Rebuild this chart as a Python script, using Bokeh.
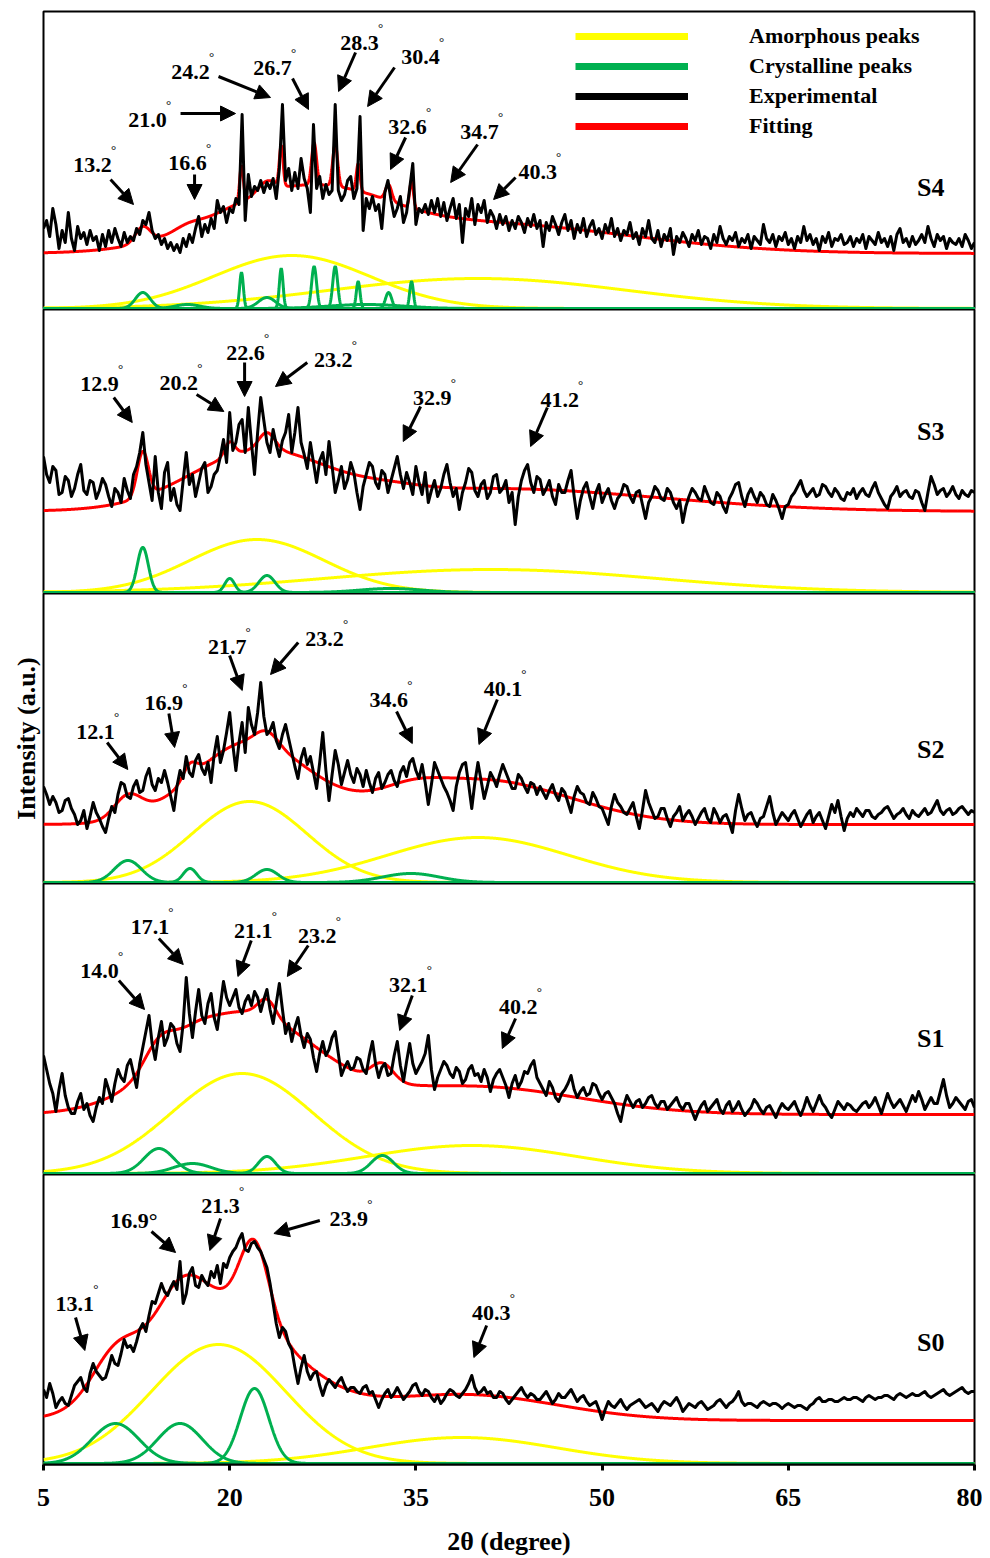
import numpy as np
from bokeh.plotting import figure
from bokeh.layouts import column
from bokeh.models import (Range1d, FixedTicker, Arrow, NormalHead, Legend,
                          LegendItem, ColumnDataSource)
from bokeh.core.properties import value
from bokeh.embed import file_html
from bokeh.resources import INLINE

FONT = "Liberation Serif"
C_AMORPH = "#FFFF00"
C_CRYST = "#00B050"
C_EXP = "#000000"
C_FIT = "#FF0000"

X_TICKS = [5, 20, 35, 50, 65, 80]
SAMPLES = ["S4", "S3", "S2", "S1", "S0"]
LEGEND_LABELS = ["Amorphous peaks", "Crystalline peaks", "Experimental", "Fitting"]
STEP = 0.25  # 2-theta sampling of the experimental traces, from 5 to 80

# ---------------- S4 ----------------
S4_EXP = [
    80, 88, 72, 100, 84, 60, 78, 66, 96, 70, 58, 82, 70, 76, 64, 78, 68, 72, 58, 74,
    62, 78, 66, 80, 70, 62, 76, 66, 72, 68, 80, 74, 88, 84, 96, 78, 70, 74, 64, 70,
    60, 66, 58, 64, 56, 70, 62, 74, 66, 80, 92, 72, 84, 76, 90, 80, 108, 96, 102, 86,
    100, 96, 110, 104, 194, 88, 134, 112, 122, 118, 128, 116, 126, 120, 130, 110, 140, 204, 128, 140,
    118, 136, 120, 150, 130, 120, 96, 184, 120, 132, 110, 124, 114, 118, 204, 118, 108, 114, 128, 132,
    110, 120, 192, 78, 110, 100, 112, 98, 104, 80, 116, 128, 108, 92, 100, 112, 86, 96, 120, 145,
    84, 100, 96, 104, 94, 108, 96, 110, 92, 106, 88, 100, 110, 90, 104, 66, 100, 92, 110, 84,
    104, 96, 108, 86, 98, 92, 80, 94, 84, 92, 78, 88, 80, 92, 86, 76, 90, 82, 94, 80,
    88, 62, 86, 78, 92, 84, 74, 86, 94, 78, 88, 70, 84, 76, 90, 72, 82, 88, 74, 80,
    70, 84, 76, 90, 72, 80, 68, 78, 74, 86, 70, 76, 64, 80, 72, 88, 70, 66, 78, 62,
    74, 68, 80, 54, 72, 66, 76, 70, 62, 74, 68, 78, 64, 72, 70, 60, 74, 66, 82, 70,
    64, 72, 68, 76, 62, 70, 66, 74, 60, 72, 68, 64, 84, 70, 66, 74, 62, 72, 68, 76,
    64, 70, 60, 72, 66, 82, 68, 74, 64, 70, 58, 72, 66, 76, 62, 70, 68, 74, 64, 66,
    72, 62, 70, 66, 74, 60, 72, 68, 64, 76, 66, 70, 62, 72, 58, 74, 80, 66, 70, 62,
    72, 64, 68, 74, 66, 82, 70, 62, 74, 68, 72, 60, 70, 66, 64, 70, 62, 74, 68, 60,
    66]
S4_BASE = 55
S4_AM_C = [25.0, 40.0]
S4_AM_H = [53, 30]
S4_AM_W = [6.3, 12.0]
S4_CR_C = [13.0, 16.6, 20.95, 23.0, 24.15, 26.8, 28.5, 30.35, 31.0, 32.8, 34.65]
S4_CR_H = [16, 4, 36, 11, 40, 42, 42, 27, 4, 16, 27]
S4_CR_W = [0.6, 1.0, 0.15, 0.7, 0.15, 0.2, 0.2, 0.15, 3.0, 0.25, 0.15]
S4_LABELS = ["13.2", "16.6", "21.0", "24.2", "26.7", "28.3", "30.4", "32.6", "34.7", "40.3"]

# ---------------- S3 ----------------
S3_EXP = [
    136, 118, 110, 126, 122, 98, 100, 116, 112, 96, 104, 118, 128, 102, 98, 112, 110, 94, 102, 114,
    108, 96, 86, 104, 100, 90, 114, 102, 94, 118, 126, 140, 160, 128, 110, 92, 136, 100, 84, 120,
    130, 92, 104, 88, 82, 112, 140, 108, 118, 96, 110, 124, 130, 100, 106, 118, 122, 136, 153, 130,
    180, 142, 150, 168, 173, 140, 185, 150, 118, 160, 195, 172, 150, 140, 163, 148, 136, 152, 160, 178,
    140, 160, 185, 150, 138, 124, 150, 130, 110, 132, 140, 118, 151, 126, 100, 112, 126, 104, 113, 130,
    120, 100, 83, 106, 118, 130, 126, 110, 104, 122, 118, 100, 112, 124, 136, 118, 104, 120, 110, 98,
    126, 110, 98, 120, 90, 102, 112, 96, 104, 118, 128, 110, 96, 104, 83, 100, 110, 124, 120, 102,
    96, 108, 112, 94, 100, 116, 118, 100, 104, 112, 90, 100, 68, 96, 112, 122, 128, 110, 100, 116,
    113, 98, 104, 112, 96, 88, 108, 100, 100, 112, 122, 96, 74, 92, 104, 110, 96, 84, 100, 108,
    90, 98, 104, 92, 84, 94, 98, 108, 106, 96, 90, 100, 102, 88, 74, 90, 96, 106, 102, 94,
    92, 104, 100, 90, 84, 92, 70, 86, 96, 104, 100, 94, 92, 106, 98, 90, 88, 100, 96, 86,
    80, 94, 100, 108, 110, 96, 86, 98, 104, 96, 90, 100, 96, 88, 86, 98, 92, 84, 74, 86,
    88, 96, 100, 106, 112, 102, 96, 100, 104, 96, 98, 108, 106, 100, 96, 104, 100, 94, 92, 100,
    98, 104, 94, 100, 104, 98, 96, 104, 110, 100, 94, 88, 84, 96, 100, 106, 96, 100, 102, 96,
    94, 102, 100, 90, 82, 100, 116, 108, 98, 102, 104, 96, 100, 106, 98, 94, 102, 98, 96, 102,
    100]
S3_BASE = 81
S3_AM_C = [22.2, 41.0]
S3_AM_H = [53, 23]
S3_AM_W = [5.4, 13.5]
S3_CR_C = [13.0, 20.0, 23.0, 33.0]
S3_CR_H = [45, 14, 17, 4]
S3_CR_W = [0.45, 0.4, 0.65, 2.5]
S3_LABELS = ["12.9", "20.2", "22.6", "23.2", "32.9", "41.2"]

# ---------------- S2 ----------------
S2_EXP = [
    96, 88, 78, 86, 80, 70, 72, 82, 84, 74, 68, 58, 62, 72, 54, 66, 80, 70, 64, 56,
    50, 64, 76, 70, 88, 100, 98, 86, 84, 96, 102, 90, 92, 106, 114, 98, 92, 104, 100, 112,
    100, 86, 72, 96, 112, 104, 126, 110, 106, 122, 128, 114, 108, 120, 100, 128, 146, 120, 132, 150,
    170, 138, 112, 140, 160, 130, 175, 158, 148, 170, 200, 166, 148, 152, 160, 142, 134, 148, 158, 144,
    130, 116, 104, 124, 134, 118, 126, 110, 94, 120, 150, 112, 82, 108, 132, 118, 98, 110, 122, 108,
    100, 114, 108, 96, 112, 100, 90, 104, 110, 94, 100, 108, 112, 102, 96, 110, 116, 106, 120, 124,
    112, 104, 118, 100, 78, 98, 120, 112, 104, 96, 90, 82, 72, 96, 110, 118, 120, 98, 74, 100,
    120, 102, 84, 96, 110, 104, 96, 108, 118, 110, 102, 94, 94, 108, 104, 96, 90, 100, 98, 88,
    96, 90, 84, 92, 98, 88, 82, 94, 90, 80, 70, 86, 96, 90, 88, 80, 78, 90, 84, 76,
    74, 66, 58, 76, 88, 80, 76, 70, 68, 74, 80, 66, 54, 72, 92, 80, 72, 64, 66, 74,
    74, 64, 56, 66, 70, 76, 62, 68, 72, 66, 58, 64, 70, 74, 64, 60, 74, 68, 60, 66,
    68, 60, 50, 72, 88, 74, 62, 68, 70, 62, 56, 64, 66, 76, 86, 70, 58, 64, 70, 66,
    62, 68, 72, 64, 56, 62, 68, 72, 60, 66, 70, 62, 54, 66, 78, 70, 82, 66, 52, 64,
    70, 66, 74, 70, 66, 72, 72, 66, 64, 68, 70, 74, 76, 70, 64, 68, 70, 74, 68, 64,
    72, 68, 66, 70, 74, 68, 70, 76, 82, 72, 68, 72, 74, 68, 70, 74, 76, 72, 68, 72,
    70]
S2_BASE = 58
S2_AM_C = [21.6, 40.0]
S2_AM_H = [81, 45]
S2_AM_W = [4.6, 7.3]
S2_CR_C = [11.8, 16.8, 23.0, 34.6]
S2_CR_H = [22, 14, 13, 9]
S2_CR_W = [1.1, 0.55, 0.9, 2.3]
S2_LABELS = ["12.1", "16.9", "21.7", "23.2", "34.6", "40.1"]

# ---------------- S1 ----------------
S1_EXP = [
    118, 104, 90, 80, 62, 84, 100, 78, 66, 60, 60, 72, 80, 64, 70, 58, 52, 66, 76, 70,
    94, 84, 72, 90, 104, 96, 92, 108, 114, 100, 86, 110, 126, 142, 158, 130, 114, 136, 152, 128,
    136, 150, 146, 130, 122, 150, 196, 160, 136, 162, 184, 158, 150, 170, 180, 156, 144, 168, 192, 176,
    168, 176, 184, 166, 160, 172, 178, 168, 182, 176, 162, 174, 184, 164, 150, 170, 190, 164, 140, 150,
    132, 146, 156, 138, 126, 140, 134, 116, 102, 120, 132, 118, 124, 136, 142, 120, 98, 106, 112, 104,
    106, 116, 114, 104, 100, 118, 132, 110, 96, 106, 110, 98, 100, 118, 132, 108, 92, 112, 130, 110,
    100, 106, 112, 120, 138, 104, 84, 96, 104, 112, 108, 100, 96, 106, 102, 90, 94, 104, 108, 98,
    100, 92, 104, 96, 82, 94, 100, 104, 96, 88, 76, 90, 98, 86, 92, 102, 100, 108, 113, 96,
    90, 84, 78, 92, 86, 76, 72, 80, 84, 90, 98, 84, 76, 82, 86, 78, 80, 90, 88, 80,
    74, 80, 82, 76, 70, 60, 52, 68, 78, 72, 66, 72, 74, 66, 70, 76, 78, 70, 66, 72,
    72, 64, 68, 72, 76, 68, 64, 70, 70, 62, 54, 62, 68, 72, 62, 66, 70, 74, 64, 60,
    68, 72, 62, 66, 72, 64, 58, 62, 66, 74, 70, 64, 60, 66, 68, 62, 56, 64, 70, 66,
    64, 68, 72, 64, 58, 66, 76, 68, 62, 70, 78, 70, 66, 60, 56, 64, 72, 68, 64, 70,
    68, 64, 62, 66, 70, 72, 66, 70, 76, 68, 60, 70, 80, 72, 66, 70, 74, 68, 62, 70,
    78, 72, 82, 74, 64, 70, 76, 70, 70, 82, 94, 78, 66, 70, 76, 72, 68, 64, 72, 74,
    66]
S1_BASE = 59
S1_AM_C = [21.0, 39.5]
S1_AM_H = [100, 28]
S1_AM_W = [5.7, 8.5]
S1_CR_C = [14.3, 17.0, 23.0, 32.3]
S1_CR_H = [25, 10, 17, 18]
S1_CR_W = [1.2, 1.5, 0.7, 0.9]
S1_LABELS = ["14.0", "17.1", "21.1", "23.2", "32.1", "40.2"]

# ---------------- S0 ----------------
S0_EXP = [
    74, 66, 80, 70, 56, 62, 66, 60, 58, 68, 78, 82, 86, 76, 72, 90, 100, 92, 88, 84,
    86, 96, 108, 100, 98, 110, 124, 116, 118, 112, 122, 134, 140, 132, 148, 162, 160, 170, 180, 172,
    168, 176, 182, 174, 202, 160, 170, 190, 196, 178, 176, 188, 182, 178, 192, 186, 198, 180, 200, 196,
    206, 212, 216, 224, 230, 214, 212, 220, 222, 216, 212, 204, 196, 180, 160, 140, 126, 136, 132, 120,
    114, 96, 80, 96, 108, 92, 84, 90, 92, 78, 68, 78, 84, 80, 76, 82, 86, 78, 72, 76,
    76, 72, 70, 76, 78, 70, 72, 64, 56, 64, 70, 74, 66, 70, 76, 70, 64, 68, 72, 78,
    80, 72, 68, 74, 72, 66, 62, 68, 60, 64, 70, 74, 72, 68, 66, 70, 74, 80, 88, 76,
    70, 72, 76, 70, 72, 66, 66, 72, 70, 64, 60, 64, 68, 72, 76, 70, 66, 70, 68, 64,
    64, 68, 72, 66, 60, 64, 70, 66, 66, 70, 74, 68, 62, 66, 68, 62, 58, 60, 62, 54,
    44, 54, 62, 58, 56, 60, 64, 58, 54, 58, 60, 62, 64, 60, 56, 58, 60, 56, 52, 58,
    62, 60, 58, 62, 66, 60, 52, 56, 60, 58, 56, 60, 62, 58, 54, 56, 58, 62, 64, 60,
    56, 60, 62, 66, 72, 62, 58, 60, 60, 58, 56, 60, 62, 60, 58, 60, 60, 58, 55, 58,
    60, 58, 56, 58, 58, 56, 54, 58, 60, 64, 66, 62, 62, 64, 64, 62, 62, 64, 66, 64,
    64, 66, 66, 64, 62, 66, 68, 66, 64, 66, 66, 68, 68, 66, 64, 68, 70, 68, 66, 68,
    70, 68, 68, 70, 72, 68, 66, 68, 70, 72, 74, 70, 68, 70, 72, 74, 76, 72, 70, 72,
    72]
S0_BASE = 43
S0_AM_C = [19.1, 38.7]
S0_AM_H = [119, 26]
S0_AM_W = [5.4, 7.6]
S0_CR_C = [10.8, 16.0, 22.0]
S0_CR_H = [40, 40, 75]
S0_CR_W = [1.9, 1.8, 1.15]
S0_LABELS = ["13.1", "16.9°", "21.3", "23.9", "40.3"]

# ---------------- annotation placement (data units of each panel) ----------------
S4_TXT_X = [8.95, 16.60, 13.38, 16.85, 23.45, 30.46, 35.38, 34.33, 40.13, 44.81]
S4_TXT_Y = [144, 146, 189, 237, 241, 266, 252, 182, 177, 137]
S4_ARROWS = [(10.40, 129, 12.25, 104), (17.17, 134, 17.17, 109), (16.04, 195, 20.47, 195),
             (19.10, 232, 23.29, 211), (25.06, 230, 26.35, 199), (30.14, 256, 28.77, 217),
             (33.28, 241, 31.11, 202), (34.17, 171, 32.96, 139), (39.97, 164, 37.80, 126),
             (43.03, 131, 41.26, 109)]
S3_TXT_X = [9.51, 15.90, 21.28, 28.34, 36.32, 46.58]
S3_TXT_Y = [209, 210, 240, 233, 195, 193]
S3_ARROWS = [(10.66, 195, 12.15, 170), (17.33, 198, 19.53, 181), (21.20, 230, 21.20, 196),
             (26.25, 230, 23.69, 206), (35.38, 186, 33.98, 151), (45.59, 185, 44.24, 146)]
S2_TXT_X = [9.19, 14.69, 19.80, 27.64, 32.82, 42.01]
S2_TXT_Y = [151, 180, 236, 244, 183, 194]
S2_ARROWS = [(10.13, 140, 11.79, 113), (15.10, 169, 15.56, 135), (19.99, 227, 21.01, 192),
             (25.52, 240, 23.29, 208), (33.44, 171, 34.71, 139), (41.56, 183, 40.08, 138)]
S1_TXT_X = [9.51, 13.57, 21.90, 27.06, 34.39, 43.25]
S1_TXT_Y = [203, 247, 243, 238, 189, 167]
S1_ARROWS = [(11.07, 193, 13.14, 164), (14.29, 235, 16.26, 209), (21.74, 233, 20.66, 197),
             (26.33, 228, 24.64, 197), (34.71, 178, 33.69, 143), (43.03, 155, 41.96, 125)]
S0_TXT_X = [7.52, 12.28, 19.26, 29.60, 41.07]
S0_TXT_Y = [160, 243, 258, 245, 151]
S0_ARROWS = [(7.58, 146, 8.33, 113), (13.70, 232, 15.64, 211), (19.26, 245, 18.40, 213),
             (27.26, 243, 23.56, 230), (40.70, 138, 39.67, 106)]
NAME_X = 76.47
NAME_Y = [121, 161, 133, 135, 121]
FRAME_H = [298, 284, 290, 291, 290]

PANELS = [
    (S4_EXP, S4_BASE, (S4_AM_C, S4_AM_H, S4_AM_W), (S4_CR_C, S4_CR_H, S4_CR_W), S4_LABELS, S4_TXT_X, S4_TXT_Y, S4_ARROWS),
    (S3_EXP, S3_BASE, (S3_AM_C, S3_AM_H, S3_AM_W), (S3_CR_C, S3_CR_H, S3_CR_W), S3_LABELS, S3_TXT_X, S3_TXT_Y, S3_ARROWS),
    (S2_EXP, S2_BASE, (S2_AM_C, S2_AM_H, S2_AM_W), (S2_CR_C, S2_CR_H, S2_CR_W), S2_LABELS, S2_TXT_X, S2_TXT_Y, S2_ARROWS),
    (S1_EXP, S1_BASE, (S1_AM_C, S1_AM_H, S1_AM_W), (S1_CR_C, S1_CR_H, S1_CR_W), S1_LABELS, S1_TXT_X, S1_TXT_Y, S1_ARROWS),
    (S0_EXP, S0_BASE, (S0_AM_C, S0_AM_H, S0_AM_W), (S0_CR_C, S0_CR_H, S0_CR_W), S0_LABELS, S0_TXT_X, S0_TXT_Y, S0_ARROWS),
]

XF = np.linspace(5, 80, 3001)


def gauss(c, h, w):
    return h * np.exp(-0.5 * ((XF - c) / w) ** 2)


figs = []
for i, (exp, base, am, cr, labels, tx, ty, arrows) in enumerate(PANELS):
    first = i == 0
    last = i == len(PANELS) - 1
    fh = FRAME_H[i]
    p = figure(output_backend="svg", toolbar_location=None,
               frame_width=931, frame_height=fh,
               x_range=Range1d(5, 80), y_range=Range1d(-1.0, fh - 1.0),
               x_axis_location="below" if last else None,
               y_axis_location="left" if i == 2 else None,
               min_border_left=43, min_border_right=8,
               min_border_top=11 if first else 0,
               min_border_bottom=0)
    p.grid.visible = False
    p.outline_line_color = "black"
    p.outline_line_width = 2
    p.background_fill_color = "white"
    p.border_fill_color = "white"

    fit = np.full_like(XF, float(base))
    for c, h, w in zip(*am):
        g = gauss(c, h, w)
        fit += g
        p.line(XF, g, line_color=C_AMORPH, line_width=3)
    for c, h, w in zip(*cr):
        g = gauss(c, h, w)
        fit += g
        p.line(XF, g, line_color=C_CRYST, line_width=3)
    p.line(XF, fit, line_color=C_FIT, line_width=3)
    xe = 5 + STEP * np.arange(len(exp))
    p.line(xe, exp, line_color=C_EXP, line_width=3, line_join="round")

    # peak labels
    src = ColumnDataSource(dict(x=tx, y=ty, t=labels))
    p.text(x="x", y="y", text="t", source=src, text_font=value(FONT),
           text_font_style="bold", text_font_size="22px", text_align="center",
           text_baseline="middle", text_color="black")
    dx = [a for a, l in zip(tx, labels) if not l.endswith("°")]
    dy = [b for b, l in zip(ty, labels) if not l.endswith("°")]
    dsrc = ColumnDataSource(dict(x=dx, y=dy, t=["°"] * len(dx)))
    p.text(x="x", y="y", text="t", source=dsrc, text_font=value(FONT),
           text_font_size="13px", text_align="center", text_baseline="middle",
           text_color="black", x_offset=21, y_offset=-15)
    for (x0, y0, x1, y1) in arrows:
        p.add_layout(Arrow(end=NormalHead(size=15, fill_color="black", line_color="black"),
                           x_start=x0, y_start=y0, x_end=x1, y_end=y1,
                           line_width=3, line_color="black"))
    # sample name
    nsrc = ColumnDataSource(dict(x=[NAME_X], y=[NAME_Y[i]], t=[SAMPLES[i]]))
    p.text(x="x", y="y", text="t", source=nsrc, text_font=value(FONT),
           text_font_style="bold", text_font_size="26px", text_align="center",
           text_baseline="middle", text_color="black")

    if first:
        rs = [p.line(x=[np.nan], y=[np.nan], line_color=c, line_width=7)
              for c in (C_AMORPH, C_CRYST, C_EXP, C_FIT)]
        leg = Legend(items=[LegendItem(label=l, renderers=[r]) for l, r in zip(LEGEND_LABELS, rs)],
                     location=(532, 170), glyph_width=113, glyph_height=26,
                     label_height=26, spacing=4, label_standoff=61, padding=0,
                     margin=0, border_line_alpha=0, background_fill_alpha=0,
                     label_text_font=FONT, label_text_font_style="bold",
                     label_text_font_size="22px", label_text_color="black")
        p.add_layout(leg)

    if i == 2:
        ay = p.yaxis[0]
        ay.ticker = FixedTicker(ticks=[])
        ay.axis_label = "Intensity (a.u.)"
        ay.axis_label_text_font = FONT
        ay.axis_label_text_font_style = "bold"
        ay.axis_label_text_font_size = "26px"
        ay.axis_label_text_color = "black"
        ay.axis_line_color = None
        ay.major_tick_line_color = None
        ay.minor_tick_line_color = None
        ay.major_label_standoff = 0
        ay.axis_label_standoff = 3

    if last:
        ax = p.xaxis[0]
        ax.ticker = FixedTicker(ticks=X_TICKS)
        ax.major_label_text_font = FONT
        ax.major_label_text_font_style = "bold"
        ax.major_label_text_font_size = "26px"
        ax.major_label_text_color = "black"
        ax.major_tick_out = 6
        ax.major_tick_in = 0
        ax.major_tick_line_width = 3
        ax.minor_tick_line_color = None
        ax.axis_line_width = 2
        ax.major_label_standoff = 18
        ax.axis_label = "2θ (degree)"
        ax.axis_label_text_font = FONT
        ax.axis_label_text_font_style = "bold"
        ax.axis_label_text_font_size = "26px"
        ax.axis_label_text_color = "black"
        ax.axis_label_standoff = 18
    figs.append(p)

layout = column(*figs, spacing=0)
open("out.html", "w").write(file_html(layout, INLINE))
